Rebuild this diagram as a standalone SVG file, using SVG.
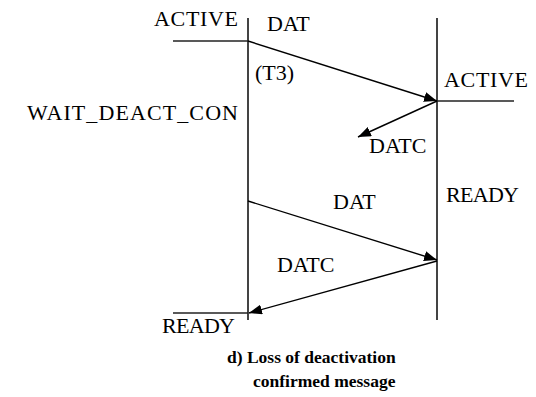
<svg xmlns="http://www.w3.org/2000/svg" width="536" height="397" viewBox="0 0 536 397">
<style>
.c{font-weight:bold;fill:#000}
.life{stroke:#444;stroke-width:2;fill:none}
.st{stroke:#222;stroke-width:1.5;fill:none}
.msg{stroke:#000;stroke-width:1.4;fill:none;marker-end:url(#ah)}
</style>
<defs>
<marker id="ah" markerUnits="userSpaceOnUse" markerWidth="14" markerHeight="10" refX="13" refY="5" orient="auto">
<path d="M0,0 L13,5 L0,10 Z" fill="#000"/>
</marker>
</defs>
<rect width="536" height="397" fill="#fff"/>
<g id="left-lifeline">
<line class="life" x1="248" y1="18" x2="248" y2="320"/>
<line class="st" x1="173" y1="41" x2="248" y2="41"/>
<line class="st" x1="173" y1="313" x2="248" y2="313"/>
<text x="154" y="26" font-family="Liberation Serif, Times New Roman, serif" font-size="22" textLength="84">ACTIVE</text>
<text x="27" y="120" font-family="Liberation Serif, Times New Roman, serif" font-size="22" textLength="211">WAIT_DEACT_CON</text>
<text x="255" y="80" font-family="Liberation Serif, Times New Roman, serif" font-size="22">(T3)</text>
<text x="162" y="333" font-family="Liberation Serif, Times New Roman, serif" font-size="22" textLength="73">READY</text>
</g>
<g id="right-lifeline">
<line class="life" x1="437" y1="18" x2="437" y2="320"/>
<line class="st" x1="437" y1="101" x2="514" y2="101"/>
<text x="444" y="87" font-family="Liberation Serif, Times New Roman, serif" font-size="22" textLength="84">ACTIVE</text>
<text x="446" y="202" font-family="Liberation Serif, Times New Roman, serif" font-size="22" textLength="73">READY</text>
</g>
<g id="connectors">
<line class="msg" x1="248" y1="41" x2="437" y2="101"/>
<line class="msg" x1="437" y1="101" x2="358" y2="137"/>
<line class="msg" x1="248" y1="201" x2="437" y2="260"/>
<line class="msg" x1="437" y1="261" x2="249" y2="313"/>
<text x="267" y="31" font-family="Liberation Serif, Times New Roman, serif" font-size="22">DAT</text>
<text x="369" y="153" font-family="Liberation Serif, Times New Roman, serif" font-size="22">DATC</text>
<text x="333" y="209" font-family="Liberation Serif, Times New Roman, serif" font-size="22">DAT</text>
<text x="277" y="272" font-family="Liberation Serif, Times New Roman, serif" font-size="22">DATC</text>
</g>
<g id="caption">
<text class="c" x="227" y="363" font-family="Liberation Serif, Times New Roman, serif" font-size="17.5">d) Loss of deactivation</text>
<text class="c" x="253" y="387" font-family="Liberation Serif, Times New Roman, serif" font-size="17.5">confirmed message</text>
</g>
</svg>
